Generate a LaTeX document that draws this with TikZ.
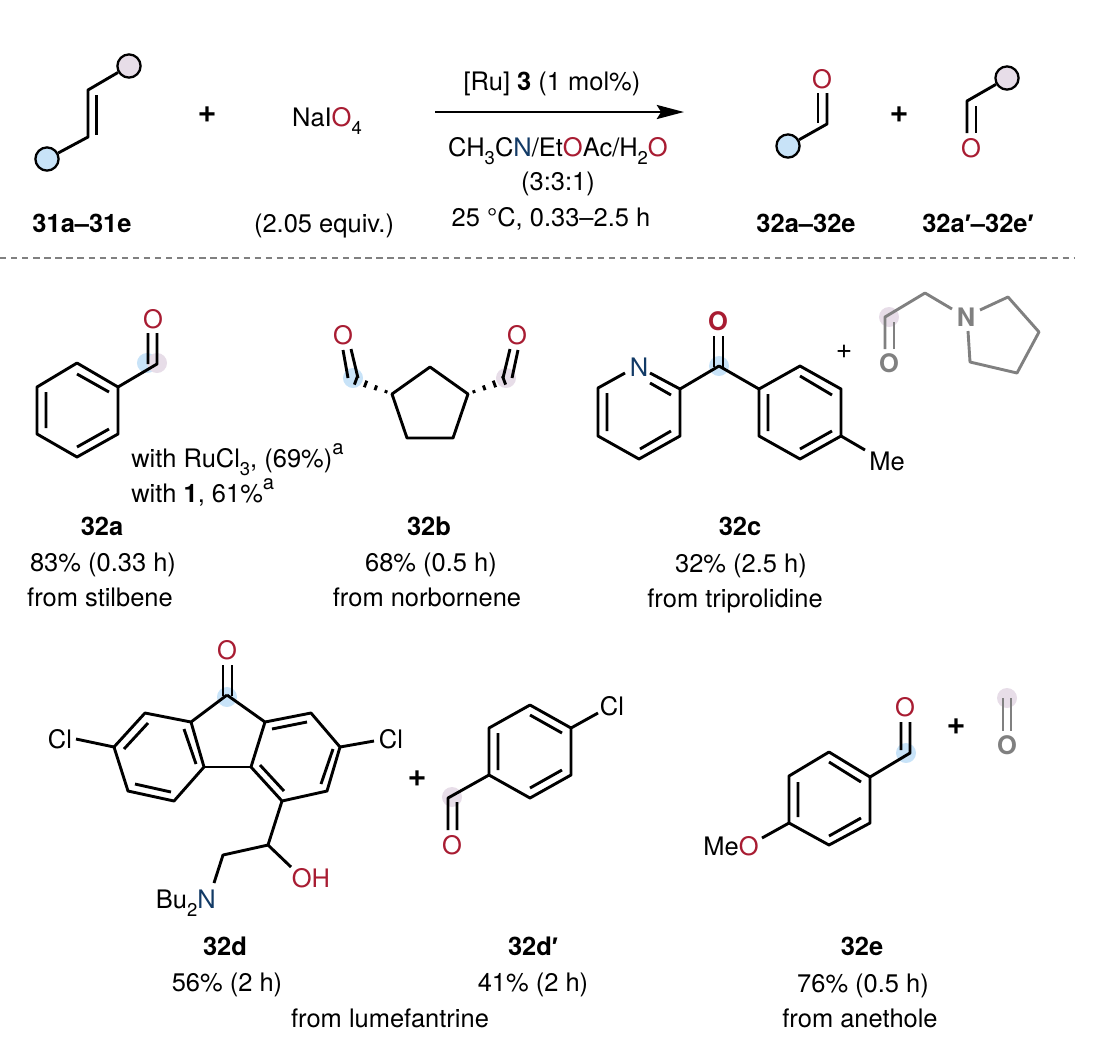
\documentclass[tikz,border=0pt]{standalone}
\usepackage{fontspec}
\setmainfont{TeX Gyre Heros}
\newfontfamily\primefont{Liberation Sans}
\usetikzlibrary{arrows.meta}
\definecolor{oxred}{HTML}{A81C32}
\definecolor{nblue}{HTML}{123A66}
\definecolor{glowblue}{HTML}{C8E3F8}
\definecolor{glowpink}{HTML}{E7DDE8}
\definecolor{fadegray}{HTML}{808080}
\newcommand{\oxy}[1]{\textcolor{oxred}{#1}}
\newcommand{\nit}[1]{\textcolor{nblue}{#1}}
\newcommand{\lowsub}[1]{\raisebox{-.32em}{\fontsize{10.5pt}{10.5pt}\selectfont #1}}
\newcommand{\highsup}[1]{\raisebox{.48em}{\fontsize{11.5pt}{11.5pt}\selectfont #1}}
\newcommand{\prm}{{\primefont ′}}
\tikzset{
	bond/.style={line width=1.65pt,line join=round},
	fadebond/.style={bond,color=fadegray},
	lbl/.style={inner sep=0pt,anchor=base,font=\fontsize{14.5pt}{17pt}\selectfont},
	boldlbl/.style={lbl,font=\fontsize{14.5pt}{17pt}\selectfont\bfseries},
	atom/.style={inner sep=0pt,anchor=center,font=\fontsize{14.5pt}{17pt}\selectfont},
	boldatom/.style={atom,font=\fontsize{14.5pt}{17pt}\selectfont\bfseries},
	plus/.style={atom,font=\fontsize{18.5pt}{19pt}\selectfont\bfseries},
	subst/.style={circle,draw,line width=1.3pt,minimum size=13.2pt,inner sep=0pt},
	glow/.style={circle,minimum size=11.4pt,inner sep=0pt}
}
\begin{document}
\begin{tikzpicture}[x=0.02cm,y=-0.02cm]
	\useasboundingbox (0,0) rectangle (1098,1042);
	% scheme
	\node[subst,fill=glowpink] (rpink) at (129,66) {};
	\node[subst,fill=glowblue] (rblue) at (47,159) {};
	\draw[bond] (rpink) -- (88,90) -- (88,137) -- (rblue);
	\draw[bond] (96.5,95) -- (96.5,135);
	\node[plus] (plusa) at (207,115) {+};
	\node[lbl] (oxidant) at (327,126) {NaI\oxy{O}\lowsub{4}};
	\node[lbl] (equiv) at (324,232) {(2.05 equiv.)};
	\node[boldlbl] (labelsm) at (82,232) {31a--31e};
	\coordinate (arrowstart) at (435,112);
	\coordinate (arrowend) at (684,112);
	\draw[-{Stealth[length=15.5pt,width=8pt,inset=2.5pt]},line width=1.4pt] (arrowstart) -- (arrowend);
	\node[lbl] (cat) at (552,90) {[Ru] \textbf{3} (1 mol\%)};
	\node[lbl] (solv) at (558,156) {CH\lowsub{3}C\nit{N}/Et\oxy{O}Ac/H\lowsub{2}\oxy{O}};
	\node[lbl] (ratio) at (558,190) {(3:3:1)};
	\node[lbl] (cond) at (551,226) {25 °C, 0.33--2.5 h};
	\node[subst,fill=glowblue] (pblue) at (788,146) {};
	\draw[bond] (pblue) -- (827,124) -- (827,93);
	\draw[bond] (818,123) -- (818,93);
	\node[atom] (oa) at (822,79) {\oxy{O}};
	\node[plus] (plusb) at (899,115) {+};
	\node[subst,fill=glowpink] (ppink) at (1007,78) {};
	\draw[bond] (ppink) -- (967,101) -- (967,133);
	\draw[bond] (976,106) -- (976,133);
	\node[atom] (ob) at (971,148) {\oxy{O}};
	\node[boldlbl] (labelpa) at (806,232) {32a--32e};
	\node[boldlbl] (labelpb) at (978,232) {32a\prm--32e\prm};
	\coordinate (sepstart) at (0,258);
	\coordinate (sepend) at (1075,258);
	\draw[line width=1.2pt,fadegray,dash pattern=on 3.6pt off 2.7pt] (sepstart) -- (sepend);
	% 32a
	\node[glow,fill=glowblue] (ga) at (147,363) {};
	\node[glow,fill=glowpink] (gb) at (157,363) {};
	\draw[bond] (77,363) -- (118,387) -- (118,434) -- (77,457) -- (37,434) -- (37,387) -- cycle;
	\draw[bond] (77,374) -- (109,392) (109,429) -- (77,447) (46,428) -- (46,392);
	\draw[bond] (118,387) -- (157,364) -- (157,333) (148,364) -- (148,333);
	\node[atom] (oc) at (153,319) {\oxy{O}};
	\node[lbl,anchor=base west] (rucl) at (131,467) {with RuCl\lowsub{3}, (69\%)\highsup{a}};
	\node[lbl,anchor=base west] (withone) at (131,502) {with \textbf{1}, 61\%\highsup{a}};
	\node[boldlbl] (namea) at (102,535) {32a};
	\node[lbl] (yielda) at (103,571) {83\% (0.33 h)};
	\node[lbl] (froma) at (100,606) {from stilbene};
	% 32b
	\node[glow,fill=glowblue] (gc) at (353,378) {};
	\node[glow,fill=glowpink] (gd) at (506,378) {};
	\draw[bond] (430,367) -- (468,394) -- (453,438) -- (407,438) -- (392,394) -- cycle;
	\foreach \t/\d in {.03/1.5,.35/2.5,.67/3.5,.97/4.5}{
		\draw[bond] ({387-32*\t-.35*\d},{392-12*\t+.94*\d}) -- ({387-32*\t+.35*\d},{392-12*\t-.94*\d});
		\draw[bond] ({473+32*\t+.35*\d},{392-12*\t+.94*\d}) -- ({473+32*\t-.35*\d},{392-12*\t-.94*\d});
	}
	\draw[bond] (343,350) -- (348,378) (351,349) -- (358,378);
	\draw[bond] (510,349) -- (503,378) (518,350) -- (512,378);
	\node[atom] (od) at (343,335) {\oxy{O}};
	\node[atom] (oe) at (517,335) {\oxy{O}};
	\node[boldlbl] (nameb) at (429,535) {32b};
	\node[lbl] (yieldb) at (431,571) {68\% (0.5 h)};
	\node[lbl] (fromb) at (427,606) {from norbornene};
	% 32c
	\node[glow,fill=glowblue] (ge) at (719,366) {};
	\node[atom] (npy) at (639,367) {\nit{N}};
	\draw[bond] (650,373) -- (680,389) -- (680,436) -- (639,459) -- (598,436) -- (598,388) -- (625,373);
	\draw[bond] (650,383) -- (671,395) (671,431) -- (640,449) (607,431) -- (607,393);
	\draw[bond] (680,389) -- (719,366) -- (759,389);
	\draw[bond] (759,389) -- (800,366) -- (841,389) -- (841,436) -- (800,459) -- (759,436) -- cycle;
	\draw[bond] (800,376) -- (832,395) (832,431) -- (800,449) (768,431) -- (768,394);
	\draw[bond] (714,367) -- (714,336) (723,367) -- (723,336);
	\node[boldatom] (of) at (718,321) {\oxy{O}};
	\draw[bond] (841,436) -- (865,450);
	\node[atom] (mea) at (887,461) {Me};
	\node[atom,font=\fontsize{16pt}{16pt}\selectfont] (plusc) at (844,352) {+};
	\node[glow,fill=glowpink] (gf) at (889,317) {};
	\draw[fadebond] (885,349) -- (885,317) -- (925,293) -- (952,309);
	\draw[fadebond] (894,349) -- (894,322);
	\node[boldatom] (og) at (889,363) {\textcolor{fadegray}{O}};
	\node[boldatom] (nring) at (966,317) {\textcolor{fadegray}{N}};
	\draw[fadebond] (980,310) -- (1008,297) -- (1039,332) -- (1017,373) -- (970,362) -- (968,331);
	\node[boldlbl] (namec) at (740,535) {32c};
	\node[lbl] (yieldc) at (741,572) {32\% (2.5 h)};
	\node[lbl] (fromc) at (735,607) {from triprolidine};
	% 32d
	\node[glow,fill=glowblue] (gg) at (227,697) {};
	\draw[bond] (227,695) -- (191,722) -- (145,713) -- (114,747) -- (128,791) -- (174,801) -- (204,767) -- (191,722);
	\draw[bond] (227,695) -- (265,722) -- (311,713) -- (340,747) -- (327,791) -- (282,801) -- (251,767) -- (265,722);
	\draw[bond] (204,767) -- (251,767);
	\draw[bond] (148,723) -- (124,749) (135,784) -- (171,792) (184,729) -- (196,764);
	\draw[bond] (272,729) -- (307,722) (333,749) -- (321,784) (260,765) -- (284,791);
	\draw[bond] (223,696) -- (223,665) (232,696) -- (232,665);
	\node[atom] (oh) at (227,650) {\oxy{O}};
	\draw[bond] (114,747) -- (76,739) (340,747) -- (374,741);
	\node[atom] (clb) at (60,739) {Cl};
	\node[atom] (clc) at (391,739) {Cl};
	\draw[bond] (282,801) -- (268,845) -- (223,855) -- (214,883);
	\draw[bond] (268,845) -- (291,867);
	\node[atom] (ohd) at (311,878) {\oxy{OH}};
	\node[lbl,anchor=base east] (nbu) at (216,908) {Bu\lowsub{2}\nit{N}};
	\node[plus] (plusd) at (417,779) {+};
	\node[glow,fill=glowpink] (gh) at (452,797) {};
	\draw[bond] (530,705) -- (571,728) -- (571,775) -- (530,798) -- (489,775) -- (489,728) -- cycle;
	\draw[bond] (530,715) -- (562,733) (562,770) -- (530,788) (498,770) -- (498,733);
	\draw[bond] (489,775) -- (448,798) -- (448,830) (457,802) -- (457,830);
	\draw[bond] (571,728) -- (598,713);
	\node[atom] (cld) at (612,706) {Cl};
	\node[atom] (oi) at (452,845) {\oxy{O}};
	\node[boldlbl] (named) at (225,955) {32d};
	\node[lbl] (yieldd) at (227,991) {56\% (2 h)};
	\node[boldlbl] (namedp) at (533,955) {32d\prm};
	\node[lbl] (yielddp) at (533,991) {41\% (2 h)};
	\node[lbl] (fromd) at (390,1027) {from lumefantrine};
	% 32e
	\node[glow,fill=glowblue] (gi) at (906,753) {};
	\draw[bond] (829,752) -- (870,777) -- (870,823) -- (829,845) -- (789,823) -- (789,776) -- cycle;
	\draw[bond] (829,762) -- (861,782) (861,818) -- (829,836) (798,817) -- (798,782);
	\draw[bond] (870,777) -- (910,753) -- (910,722) (901,750) -- (901,722);
	\node[atom] (oj) at (905,707) {\oxy{O}};
	\draw[bond] (789,823) -- (762,838);
	\node[lbl,anchor=base east] (meo) at (759,855) {Me\oxy{O}};
	\node[plus] (pluse) at (956,727) {+};
	\node[glow,fill=glowpink] (gj) at (1007,698) {};
	\draw[fadebond] (1003,698) -- (1003,731) (1011,698) -- (1011,731);
	\node[boldatom] (ok) at (1007,745) {\textcolor{fadegray}{O}};
	\node[boldlbl] (namee) at (862,955) {32e};
	\node[lbl] (yielde) at (863,992) {76\% (0.5 h)};
	\node[lbl] (frome) at (860,1027) {from anethole};
\end{tikzpicture}
\end{document}
